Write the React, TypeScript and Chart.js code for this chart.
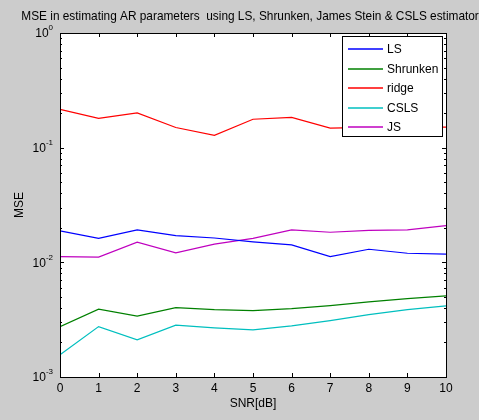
import React, { useEffect, useRef } from "react";
import { Chart, registerables } from "chart.js";

Chart.register(...registerables);

const snr = [0, 1, 2, 3, 4, 5, 6, 7, 8, 9, 10];
const lsValues = [0.0188, 0.0162, 0.0192, 0.0171, 0.0163, 0.0151, 0.0142, 0.0112, 0.013, 0.012, 0.0118];
const shrunkenValues = [0.00275, 0.0039, 0.00339, 0.00403, 0.00387, 0.00379, 0.00395, 0.0042, 0.00452, 0.00483, 0.00509];
const ridgeValues = [0.216, 0.18, 0.201, 0.15, 0.128, 0.177, 0.184, 0.148, 0.15, 0.152, 0.151];
const cslsValues = [0.00156, 0.00275, 0.00211, 0.00283, 0.00268, 0.00258, 0.00279, 0.0031, 0.0035, 0.00387, 0.00417];
const jsValues = [0.0112, 0.0111, 0.015, 0.0121, 0.0144, 0.0162, 0.0192, 0.0183, 0.019, 0.0192, 0.0209];
const xTicks = [0, 1, 2, 3, 4, 5, 6, 7, 8, 9, 10];
const yDecades = [-3, -2, -1, 0];
const seriesLabels = ["LS", "Shrunken", "ridge", "CSLS", "JS"];
const seriesColors = ["#0000ff", "#008000", "#ff0000", "#00bfbf", "#bf00bf"];

const titleText = "MSE in estimating AR parameters  using LS, Shrunken, James Stein & CSLS estimators";
const FONT = "Liberation Sans, Arial, sans-serif";

const axesPlugin = {
  id: "matlabAxes",
  beforeDraw(chart: any) {
    const { ctx, chartArea: a } = chart;
    ctx.save();
    ctx.fillStyle = "#cccccc";
    ctx.fillRect(0, 0, chart.width, chart.height);
    ctx.fillStyle = "#ffffff";
    ctx.fillRect(a.left, a.top, a.right - a.left, a.bottom - a.top);
    ctx.restore();
  },
  afterDatasetsDraw(chart: any) {
    const { ctx, chartArea: a } = chart;
    const xs = chart.scales.x;
    const ys = chart.scales.y;
    ctx.save();
    ctx.strokeStyle = "#000000";
    ctx.lineWidth = 1;
    ctx.beginPath();
    xTicks.forEach((v) => {
      const px = Math.round(xs.getPixelForValue(v)) + 0.5;
      ctx.moveTo(px, a.bottom);
      ctx.lineTo(px, a.bottom - 4);
      ctx.moveTo(px, a.top);
      ctx.lineTo(px, a.top + 4);
    });
    yDecades.forEach((d) => {
      const py = Math.round(ys.getPixelForValue(Math.pow(10, d))) + 0.5;
      ctx.moveTo(a.left, py);
      ctx.lineTo(a.left + 4, py);
      ctx.moveTo(a.right, py);
      ctx.lineTo(a.right - 4, py);
      if (d < 0) {
        for (let m = 2; m <= 9; m++) {
          const pm = Math.round(ys.getPixelForValue(m * Math.pow(10, d))) + 0.5;
          ctx.moveTo(a.left, pm);
          ctx.lineTo(a.left + 2, pm);
          ctx.moveTo(a.right, pm);
          ctx.lineTo(a.right - 2, pm);
        }
      }
    });
    ctx.stroke();
    ctx.strokeRect(Math.round(a.left) + 0.5, Math.round(a.top) + 0.5, Math.round(a.right - a.left), Math.round(a.bottom - a.top));

    ctx.fillStyle = "#000000";
    ctx.font = "12px " + FONT;
    ctx.textAlign = "center";
    ctx.textBaseline = "middle";
    xTicks.forEach((v) => {
      ctx.fillText(String(v), xs.getPixelForValue(v), a.bottom + 12);
    });
    yDecades.forEach((d) => {
      const py = ys.getPixelForValue(Math.pow(10, d));
      const sup = String(d);
      ctx.textBaseline = "middle";
      ctx.font = "8px " + FONT;
      const sw = ctx.measureText(sup).width;
      ctx.font = "12px " + FONT;
      ctx.textAlign = "right";
      ctx.fillText("10", a.left - 8 - sw + 1, py + 1);
      ctx.font = "8px " + FONT;
      ctx.textAlign = "left";
      ctx.fillText(sup, a.left - 8 - sw + 1, py - 5);
    });
    ctx.font = "12px " + FONT;
    ctx.textAlign = "center";
    ctx.fillText("SNR[dB]", (a.left + a.right) / 2, a.bottom + 27);
    ctx.save();
    ctx.translate(a.left - 40, (a.top + a.bottom) / 2);
    ctx.rotate(-Math.PI / 2);
    ctx.fillText("MSE", 0, 0);
    ctx.restore();
    ctx.textBaseline = "alphabetic";
    ctx.font = "11.85px " + FONT;
    ctx.fillText(titleText, (a.left + a.right) / 2, a.top - 13);

    const lx = a.right - 104;
    const ly = a.top + 3;
    const lw = 100;
    const lh = 100;
    ctx.fillStyle = "#ffffff";
    ctx.fillRect(lx, ly, lw, lh);
    ctx.strokeStyle = "#000000";
    ctx.lineWidth = 1;
    ctx.strokeRect(Math.round(lx) + 0.5, Math.round(ly) + 0.5, lw, lh);
    chart.data.datasets.forEach((ds: any, i: number) => {
      const ey = Math.round(ly + 13 + i * 19.5);
      ctx.beginPath();
      ctx.lineWidth = 1.3;
      ctx.strokeStyle = String(ds.borderColor);
      ctx.moveTo(lx + 6, ey);
      ctx.lineTo(lx + 41, ey);
      ctx.stroke();
      ctx.fillStyle = "#000000";
      ctx.font = "12px " + FONT;
      ctx.textAlign = "left";
      ctx.textBaseline = "middle";
      ctx.fillText(ds.label, lx + 45, ey + 1);
    });
    ctx.restore();
  },
};

export default function App() {
  const ref = useRef<HTMLCanvasElement>(null);
  useEffect(() => {
    document.body.style.margin = "0";
    const allValues = [lsValues, shrunkenValues, ridgeValues, cslsValues, jsValues];
    const chart = new Chart(ref.current!, {
      type: "line",
      data: {
        datasets: allValues.map((data, k) => ({
          label: seriesLabels[k],
          data: snr.map((x, i) => ({ x, y: data[i] })),
          borderColor: seriesColors[k],
          backgroundColor: seriesColors[k],
          borderWidth: 1.2,
          pointRadius: 0,
          tension: 0,
          fill: false,
        })),
      },
      options: {
        animation: false,
        responsive: false,
        devicePixelRatio: 1,
        layout: { padding: { left: 60, right: 33, top: 33, bottom: 43 } },
        plugins: { legend: { display: false }, title: { display: false }, tooltip: { enabled: false } },
        scales: {
          x: { type: "linear", min: 0, max: 10, display: false },
          y: { type: "logarithmic", min: 0.001, max: 1, display: false },
        },
      },
      plugins: [axesPlugin],
    });
    return () => chart.destroy();
  }, []);
  return (
    <div style={{ position: "fixed", left: 0, top: 0, width: 479, height: 420 }}>
      <canvas ref={ref} width={479} height={420} style={{ width: 479, height: 420, display: "block" }} />
    </div>
  );
}
